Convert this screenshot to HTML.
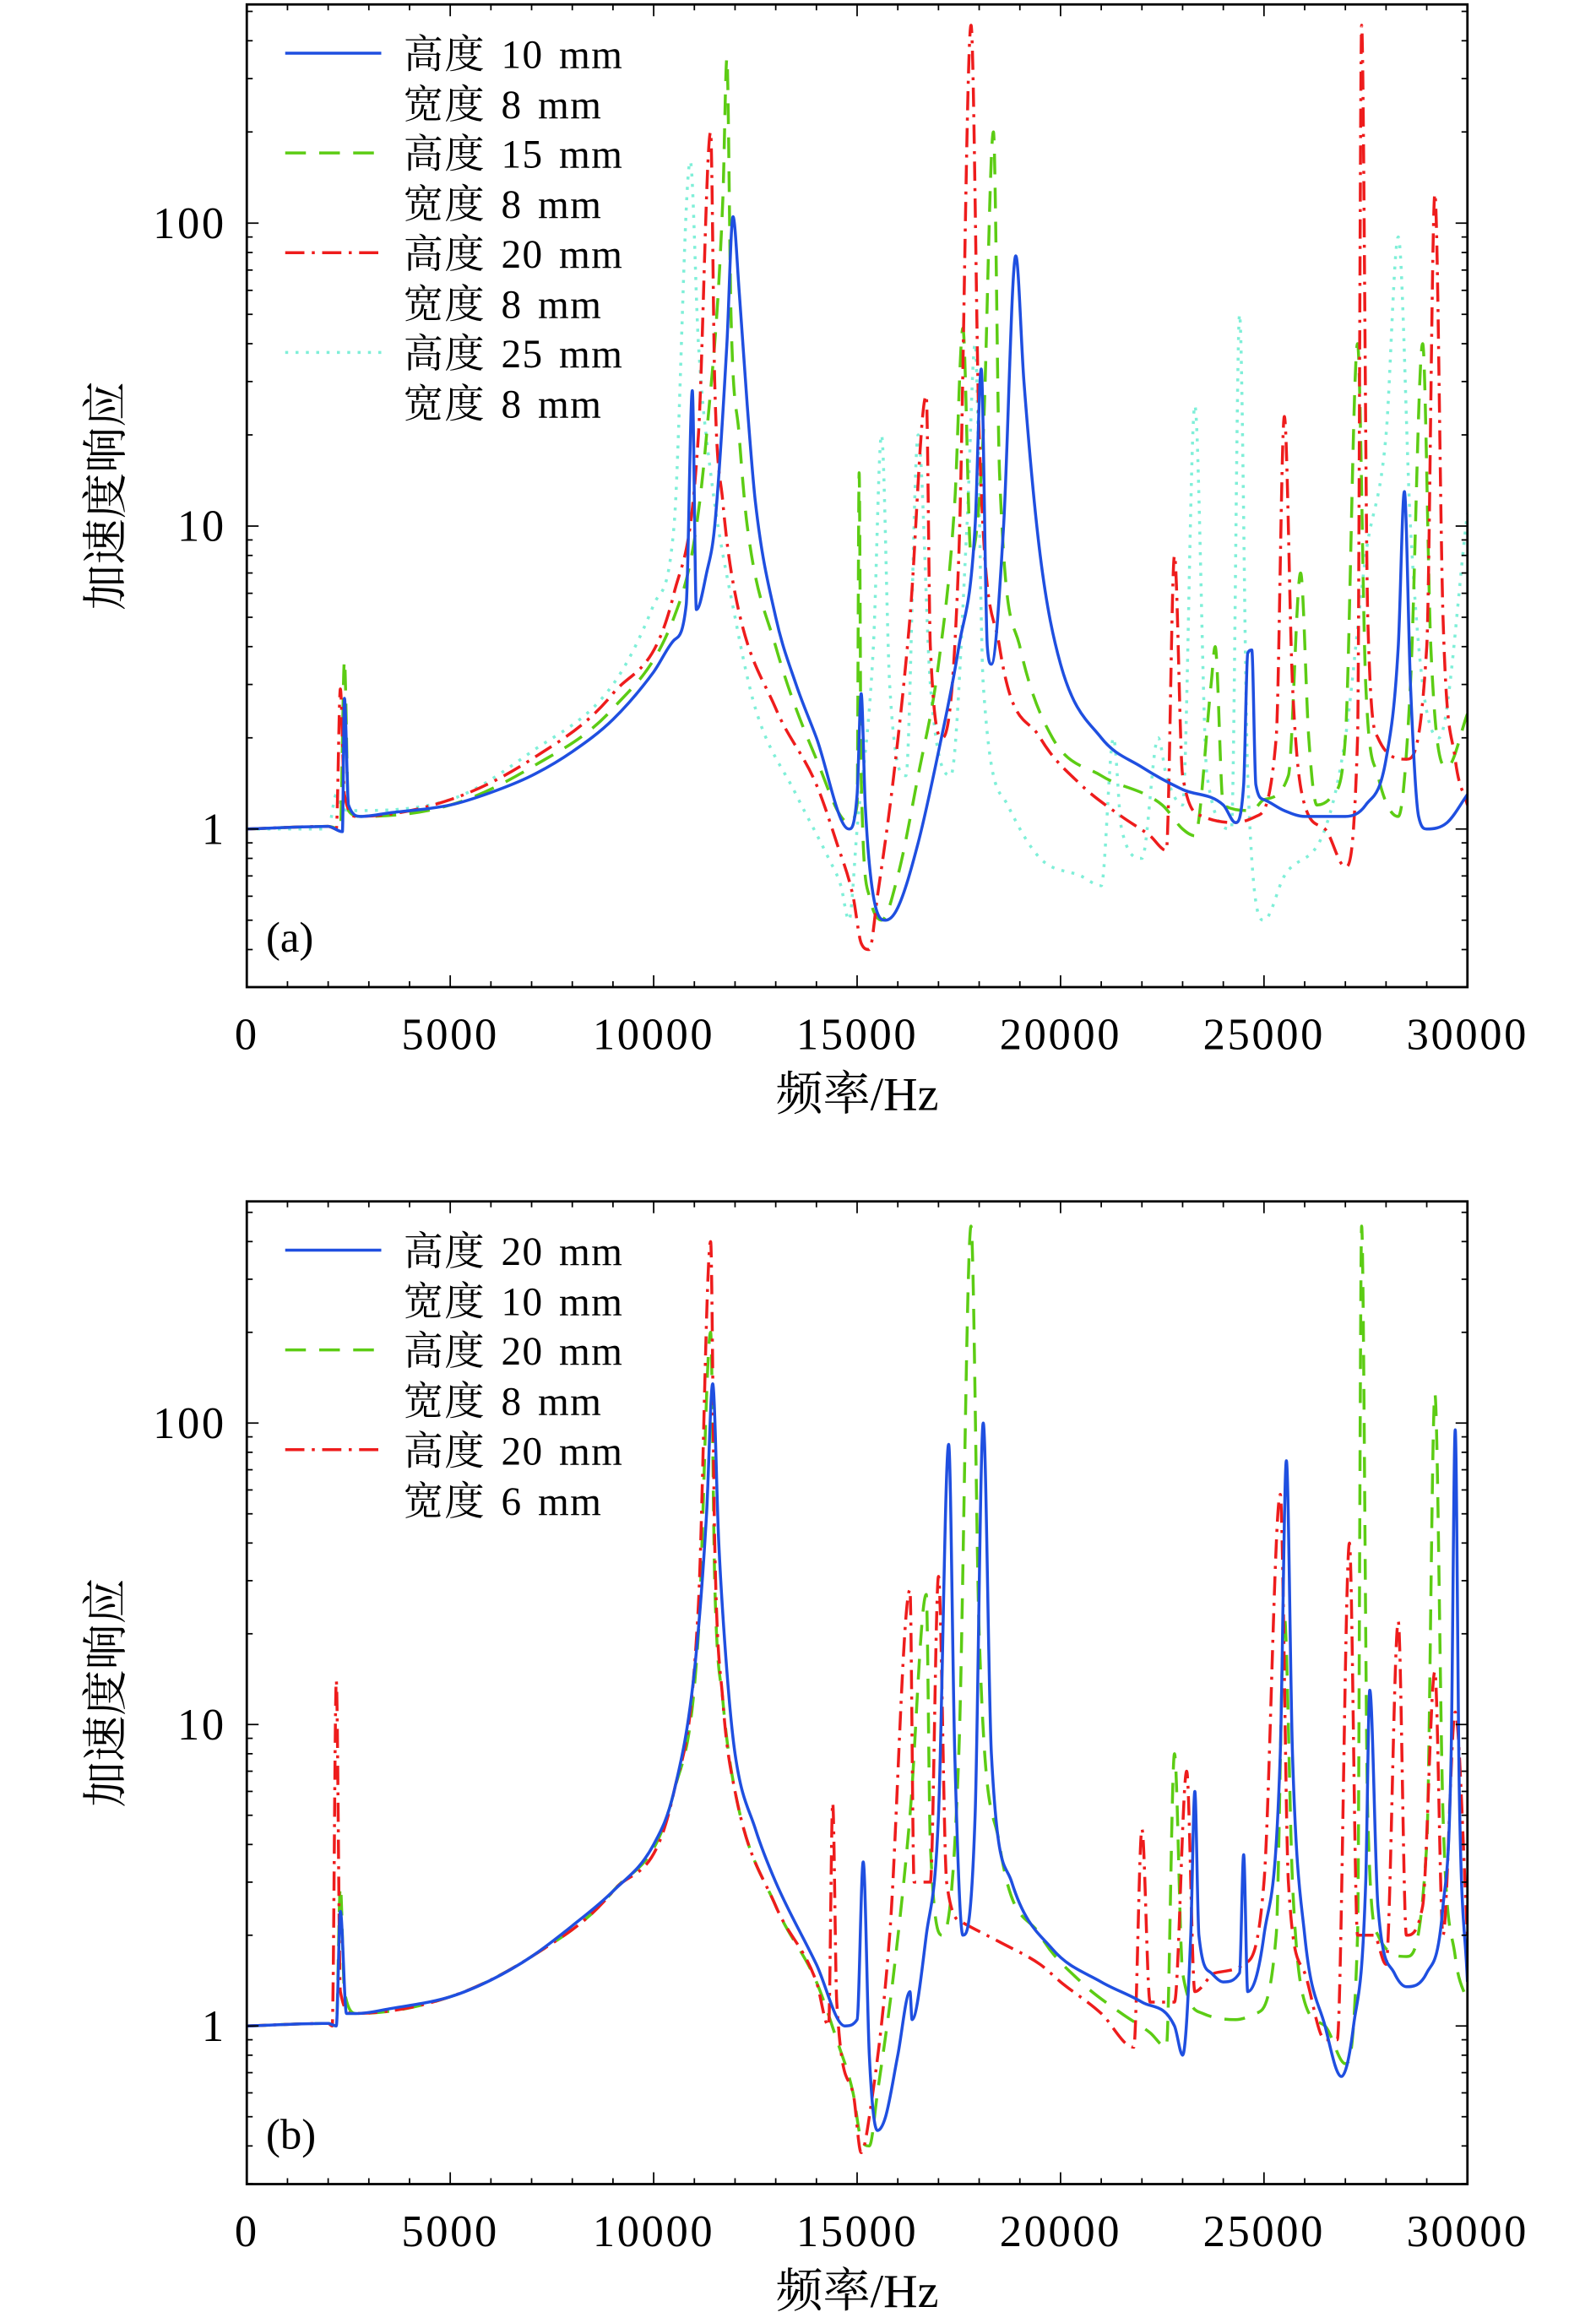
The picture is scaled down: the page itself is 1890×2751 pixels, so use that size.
<!DOCTYPE html>
<html><head><meta charset="utf-8">
<style>
html,body{margin:0;padding:0;background:#fff;}
svg{display:block;}
text{font-family:"Liberation Serif","Noto Serif CJK SC",serif;fill:#000;}
</style></head>
<body>
<svg id="chart" width="1890" height="2751" viewBox="0 0 1080 1572" xmlns="http://www.w3.org/2000/svg"></svg>
<script>
// ---- data (frequency Hz, acceleration response) ----
const xTicks = [0, 5000, 10000, 15000, 20000, 25000, 30000];
const yTickVals = [1, 10, 100];
const yTickLabels = ["1", "10", "100"];

// panel (a)
const aBlueF = [0,2000,2350,2400,2500,2800,3500,5000,6000,7000,8000,9000,10000,10500,10800,10950,11050,11300,11500,11800,11950,12100,12300,12500,13000,13500,14000,14800,15000,15100,15200,15400,15700,16000,16500,17000,17500,17900,18050,18200,18300,18600,18900,19100,19500,20000,21000,22000,23000,24000,24300,24500,24600,24700,24800,25000,25500,26000,26500,27000,27500,28000,28300,28450,28600,28800,29000,29500,30000];
const aBlueV = [1,1.02,0.98,2.7,1.2,1.1,1.13,1.2,1.32,1.5,1.8,2.3,3.3,4.2,5.5,28,5.3,7,10,40,105,60,25,12,5,3,2,1.0,1.3,2.8,1.2,0.6,0.5,0.55,0.9,1.8,4,10,33,4,3.5,10,78,30,8,3.5,2,1.6,1.35,1.2,1.05,1.4,3.8,3.9,1.4,1.25,1.15,1.1,1.1,1.1,1.2,1.7,4,13,3,1.1,1.0,1.05,1.3];
const aGreenF = [0,2000,2300,2400,2500,2800,5000,7000,9000,10500,11000,11300,11700,11800,11900,12100,12300,13000,14000,14800,15000,15050,15100,15300,15600,16000,16500,17000,17400,17600,17800,18100,18350,18500,19000,19800,21000,22500,23000,23300,23700,23800,24000,24700,25000,25600,25900,26100,26300,26700,27000,27300,27500,27800,28300,28600,28900,29100,29500,30000];
const aGreenV = [1,1.02,1.0,3.6,1.15,1.1,1.2,1.6,2.5,5,9,20,120,350,50,20,10,4,1.7,1.05,1.2,15,1.5,0.6,0.5,0.7,1.5,3.5,12,45,8,20,200,15,4,2,1.5,1.2,1.0,0.95,3,4,1.2,1.15,1.25,1.5,7,2,1.2,1.3,2,40,3,1.5,1.1,3,40,4,1.6,2.4];
const aRedF = [0,2000,2200,2300,2400,2700,5000,7000,9000,10500,11100,11400,11500,11700,12000,13000,14000,14500,14900,15100,15300,15500,15900,16300,16700,16800,17100,17500,17800,18000,18500,19500,20500,21500,22200,22600,22800,23000,23500,24300,24800,25300,25500,25700,26000,26500,27000,27300,27400,27550,27800,28500,29000,29200,29400,29700,30000];
const aRedV = [1,1.02,1.0,2.9,1.3,1.1,1.25,1.7,2.8,6,20,200,30,12,6,2.5,1.4,0.9,0.6,0.42,0.4,0.6,1.5,5,27,4,2,8,450,20,4,2,1.4,1.1,0.95,0.85,8,1.5,1.1,1.05,1.1,2,23,3,1.2,1.0,0.75,2,450,5,2,1.7,4,125,5,1.7,1.2];
const aCyanF = [0,2000,2200,2300,2500,5000,7000,9000,10000,10500,10900,11100,11400,12000,12500,13500,14300,14600,14800,15000,15400,15600,15800,16200,16500,16800,17300,17700,17900,18100,18700,19500,20500,21000,21300,21500,22000,22400,22600,23000,23300,23600,24200,24400,24600,25000,25500,26500,27000,27500,28000,28300,28600,28900,29300,30000];
const aCyanV = [1,1.0,1.3,1.2,1.15,1.25,1.8,3,5.5,10,160,40,15,5,2.5,1.3,0.8,0.65,0.5,1.0,4,20,3,1.5,20,3,1.5,10,40,3,1.2,0.8,0.7,0.65,2,1,0.8,2,1.5,1.2,25,1.5,1.0,50,1.5,0.5,0.7,1.0,2,8,20,90,10,3,2,11];

// panel (b)
const bBlueF = [0,2000,2200,2300,2450,2700,3500,5000,6000,7000,8000,9000,10000,10500,11000,11300,11450,11600,11800,12000,12500,13000,14000,14700,15000,15150,15300,15500,15700,16000,16300,16350,16700,17000,17250,17400,17600,17900,18100,18300,18800,19800,21000,22000,22800,23000,23200,23300,23400,23700,24000,24400,24500,24600,25000,25400,25550,25700,26000,26500,26900,27200,27500,27600,27800,28200,28500,29000,29400,29600,29700,29800,30000];
const bBlueV = [1,1.02,1.0,2.4,1.1,1.1,1.14,1.25,1.42,1.7,2.15,2.8,4,6,15,50,135,40,15,8,4.5,3,1.6,1.0,1.05,3.5,0.8,0.45,0.5,0.8,1.3,1.05,2,5,85,8,2,5,100,8,3,1.8,1.4,1.2,1.0,0.8,2,6,2,1.5,1.4,1.5,3.7,1.3,2,8,75,8,2,1,0.68,1,3,13,2.5,1.5,1.35,1.5,2.5,8,95,6,1.4];
const bGreenF = aRedF.slice();
const bGreenV = aRedV.slice();
const bRedF = [0,2000,2100,2200,2300,2600,5000,7000,9000,10500,11100,11400,11500,11700,12000,13000,14000,14300,14400,14500,14900,15100,15300,15800,16300,16400,16800,17000,17200,17600,18500,19500,20000,21000,21800,22000,22200,22800,23100,23300,23800,24500,25000,25400,25600,26000,26500,26800,27100,27300,27700,28000,28300,28500,28900,29200,29400,29700,30000];
const bRedV = [1,1.02,1.0,14,1.3,1.1,1.25,1.7,2.8,6,25,400,40,12,6,2.5,1.4,1.0,5.5,1.2,0.6,0.38,0.5,2,28,3,3,31,3,2.2,1.9,1.6,1.4,1.1,0.85,4.5,1.2,1.2,7,1.3,1.5,1.6,3,58,3,1.5,0.9,0.9,40,2,2,1.6,22,2,2.5,15,2,11,2];

// ---- drawing ----
const NS = "http://www.w3.org/2000/svg";
const svg = document.getElementById('chart');
function mk(tag, attrs, parent){ const e=document.createElementNS(NS,tag); for(const k in attrs) e.setAttribute(k,attrs[k]); (parent||svg).appendChild(e); return e; }

const X0=167, X1=993;
function xs(f){ return X0 + (f/30000)*(X1-X0); }

function monoPath(px, py){
  const n=px.length; if(n<2) return '';
  const d=[], m=new Array(n);
  for(let i=0;i<n-1;i++) d.push((py[i+1]-py[i])/((px[i+1]-px[i])||1e-6));
  m[0]=d[0]; m[n-1]=d[n-2];
  for(let i=1;i<n-1;i++){ m[i] = (d[i-1]*d[i]<=0)?0:(d[i-1]+d[i])/2; }
  for(let i=0;i<n-1;i++){
    if(d[i]===0){m[i]=0;m[i+1]=0;continue;}
    const a=m[i]/d[i], b=m[i+1]/d[i], s=a*a+b*b;
    if(s>9){ const t=3/Math.sqrt(s); m[i]=t*a*d[i]; m[i+1]=t*b*d[i]; }
  }
  let p='M'+px[0].toFixed(2)+','+py[0].toFixed(2);
  for(let i=0;i<n-1;i++){
    const h=(px[i+1]-px[i])/3;
    p+='C'+(px[i]+h).toFixed(2)+','+(py[i]+m[i]*h).toFixed(2)+' '+(px[i+1]-h).toFixed(2)+','+(py[i+1]-m[i+1]*h).toFixed(2)+' '+px[i+1].toFixed(2)+','+py[i+1].toFixed(2);
  }
  return p;
}

function panel(name, top, bottom, y1px, decade, series, legend, label){
  const g = mk('g',{});
  
  
  const ys = v => y1px - Math.log10(v)*decade;
  const clipId = name+'-clip';
  const cp = mk('clipPath',{id:clipId}, g);
  mk('rect',{x:X0,y:top,width:X1-X0,height:bottom-top},cp);
  const sg = mk('g',{'clip-path':'url(#'+clipId+')'}, g);
  series.forEach(s=>{
    const px=s.f.map(xs), py=s.v.map(ys);
    const p = mk('path',{d:monoPath(px,py),fill:'none',stroke:s.color,'stroke-width':s.w,'stroke-dasharray':s.dash||'none','stroke-linejoin':'round'}, sg);
    
    
  });
  const fr = mk('rect',{x:X0,y:top,width:X1-X0,height:bottom-top,fill:'none',stroke:'#000','stroke-width':1.6}, g);
  
  
  for(let f=0; f<=30000; f+=1000){
    const major = f%5000===0; const L = major?8:4; const x=xs(f);
    mk('line',{x1:x,x2:x,y1:bottom,y2:bottom-L,stroke:'#000','stroke-width':1}, g);
    mk('line',{x1:x,x2:x,y1:top,y2:top+L,stroke:'#000','stroke-width':1}, g);
  }
  xTicks.forEach(f=>{
    const t = mk('text',{x:xs(f),y:bottom+42,'font-size':30,'letter-spacing':1.5,'text-anchor':'middle'}, g);
    t.textContent = String(f);
    
    
  });
  for(let e=-1; e<=2; e++){
    for(let m=1;m<=9;m++){
      const v = m*Math.pow(10,e); const y=ys(v);
      if(y<top||y>bottom) continue;
      const L = m===1?8:4;
      mk('line',{x1:X0,x2:X0+L,y1:y,y2:y,stroke:'#000','stroke-width':1}, g);
      mk('line',{x1:X1,x2:X1-L,y1:y,y2:y,stroke:'#000','stroke-width':1}, g);
    }
  }
  yTickVals.forEach((v,i)=>{
    const t = mk('text',{x:153,y:ys(v)+10,'font-size':30,'letter-spacing':1.5,'text-anchor':'end'}, g);
    t.textContent = yTickLabels[i];
    
    
  });
  const xt = mk('text',{x:580,y:bottom+83,'font-size':32,'text-anchor':'middle'}, g);
  xt.textContent = '频率/Hz';
  
  
  const cy = (top+bottom)/2;
  const yt = mk('text',{x:82,y:cy,'font-size':31,'text-anchor':'middle',transform:'rotate(-90 82 '+cy+')'}, g);
  yt.textContent = '加速度响应';
  
  
  const pl = mk('text',{x:180,y:bottom-24,'font-size':29}, g);
  pl.textContent = label;
  
  
  legend.forEach((L,i)=>{
    const y0 = top + 33 + i*67.5;
    const le = mk('g',{}, g);
    
    
    mk('line',{x1:193,x2:258,y1:y0,y2:y0,stroke:L.color,'stroke-width':L.w,'stroke-dasharray':L.dash||'none'}, le);
    const t1 = mk('text',{x:273,y:y0+10,'font-size':27,'word-spacing':3,'letter-spacing':0.8}, le); t1.textContent = L.t1;
    const t2 = mk('text',{x:273,y:y0+44,'font-size':27,'word-spacing':3,'letter-spacing':0.8}, le); t2.textContent = L.t2;
  });
}

const BLUE='#1f4fe0', GREEN='#5ccc14', RED='#ee1c1c', CYAN='#7fefd8';
const DASH='14,9', DASHDOT='13,5,2,5', DOT='2,5';

panel('panel-a', 3, 668, 561, 205, [
  {name:'series-h25-w8', f:aCyanF, v:aCyanV, color:CYAN, w:2, dash:DOT},
  {name:'series-h15-w8', f:aGreenF, v:aGreenV, color:GREEN, w:2, dash:DASH},
  {name:'series-h20-w8', f:aRedF, v:aRedV, color:RED, w:2, dash:DASHDOT},
  {name:'series-h10-w8', f:aBlueF, v:aBlueV, color:BLUE, w:2}
],[
  {color:BLUE,w:2,t1:'高度 10 mm',t2:'宽度 8 mm'},
  {color:GREEN,w:2,dash:DASH,t1:'高度 15 mm',t2:'宽度 8 mm'},
  {color:RED,w:2,dash:DASHDOT,t1:'高度 20 mm',t2:'宽度 8 mm'},
  {color:CYAN,w:2,dash:DOT,t1:'高度 25 mm',t2:'宽度 8 mm'}
], '(a)');

panel('panel-b', 813, 1478, 1371, 204, [
  {name:'series-h20-w8', f:bGreenF, v:bGreenV, color:GREEN, w:2, dash:DASH},
  {name:'series-h20-w6', f:bRedF, v:bRedV, color:RED, w:2, dash:DASHDOT},
  {name:'series-h20-w10', f:bBlueF, v:bBlueV, color:BLUE, w:2}
],[
  {color:BLUE,w:2,t1:'高度 20 mm',t2:'宽度 10 mm'},
  {color:GREEN,w:2,dash:DASH,t1:'高度 20 mm',t2:'宽度 8 mm'},
  {color:RED,w:2,dash:DASHDOT,t1:'高度 20 mm',t2:'宽度 6 mm'}
], '(b)');
</script>
</body></html>
